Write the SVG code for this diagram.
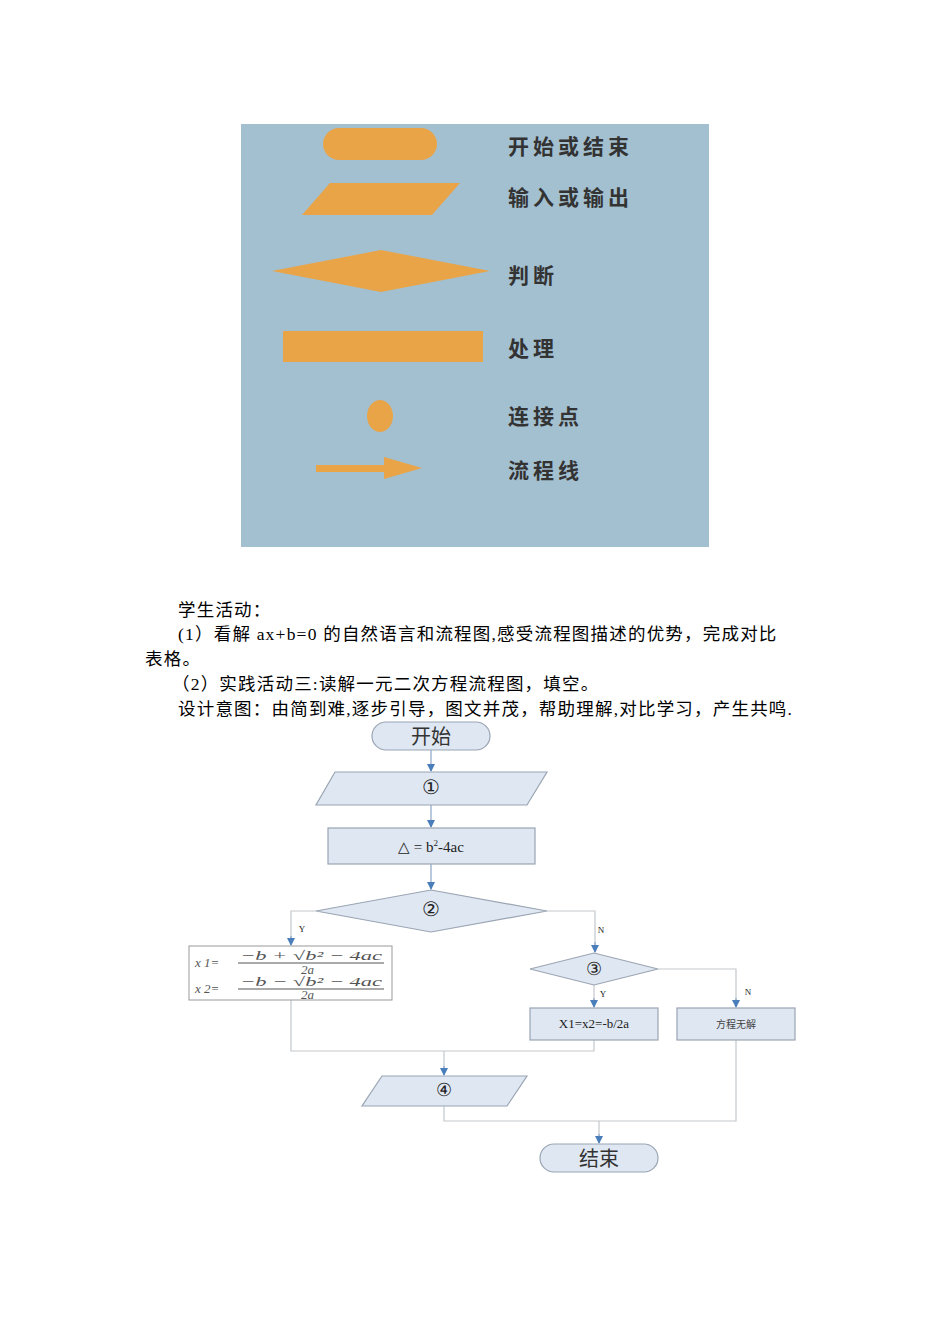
<svg xmlns="http://www.w3.org/2000/svg" width="950" height="1344" viewBox="0 0 950 1344">
<style>
.o{fill:#e9a448}
.lg{font-family:"Noto Sans CJK SC",sans-serif;font-size:21px;font-weight:bold;fill:#333}
.p{font-family:"Liberation Serif","Noto Sans CJK SC",serif;font-size:17.5px;letter-spacing:1.2px;fill:#000}
.n{fill:#dfe7f2;stroke:#9aa5b3;stroke-width:1.2}
.c{fill:none;stroke:#c4c8cc;stroke-width:1.2}
.a{fill:none;stroke:#8aa4c8;stroke-width:1.2}
.t{font-family:"Liberation Serif",serif;text-anchor:middle;fill:#222}
.f{font-family:"Liberation Serif",serif;font-style:italic;font-size:13px;fill:#555}
</style>
<defs><marker id="m" markerWidth="8" markerHeight="8" refX="7" refY="4" orient="auto" markerUnits="userSpaceOnUse"><path d="M0,0 L8,4 L0,8 Z" fill="#4a7ebb"/></marker></defs>
<rect width="950" height="1344" fill="#fff"/>
<g id="legend">
<rect x="241" y="124" width="468" height="423" fill="#a3c0d0"/>
<rect class="o" x="323" y="128" width="114" height="32" rx="16"/>
<polygon class="o" points="330,183 460,183 432,215 302,215"/>
<polygon class="o" points="272,271 381,250 490,271 381,292"/>
<rect class="o" x="283" y="331" width="200" height="31"/>
<ellipse class="o" cx="380" cy="416" rx="13" ry="16"/>
<rect class="o" x="316" y="465" width="70" height="7"/>
<polygon class="o" points="384,457 422,468 384,479"/>
<text class="lg" x="508" y="154" letter-spacing="4">开始或结束</text>
<text class="lg" x="508" y="205" letter-spacing="4">输入或输出</text>
<text class="lg" x="508" y="283" letter-spacing="4">判断</text>
<text class="lg" x="508" y="356" letter-spacing="4">处理</text>
<text class="lg" x="508" y="424" letter-spacing="4">连接点</text>
<text class="lg" x="508" y="478" letter-spacing="4">流程线</text>
</g>
<g id="text">
<text class="p" x="178" y="616">学生活动：</text>
<text class="p" x="178" y="640">(1）看解 ax+b=0 的自然语言和流程图,感受流程图描述的优势，完成对比</text>
<text class="p" x="145" y="665">表格。</text>
<text class="p" x="172" y="690">（2）实践活动三:读解一元二次方程流程图，填空。</text>
<text class="p" x="178" y="715">设计意图：由简到难,逐步引导，图文并茂，帮助理解,对比学习，产生共鸣.</text>
</g>
<g id="connectors">
<path class="a" d="M431,750 V771" marker-end="url(#m)"/>
<path class="a" d="M431,805 V827" marker-end="url(#m)"/>
<path class="a" d="M431,864 V889" marker-end="url(#m)"/>
<path class="c" d="M316,911 H291 V940"/><path class="a" d="M291,936 V945" marker-end="url(#m)"/>
<path class="c" d="M547,911 H595 V946"/><path class="a" d="M595,942 V952" marker-end="url(#m)"/>
<path class="c" d="M594,985 V1002"/><path class="a" d="M594,998 V1007" marker-end="url(#m)"/>
<path class="c" d="M658,969 H736 V1002"/><path class="a" d="M736,998 V1007" marker-end="url(#m)"/>
<path class="c" d="M291,1000 V1051 H594 V1040"/>
<path class="c" d="M444,1051 V1070"/><path class="a" d="M444,1066 V1075" marker-end="url(#m)"/>
<path class="c" d="M444,1106 V1121 H736 V1040"/>
<path class="c" d="M599,1121 V1138"/><path class="a" d="M599,1134 V1143" marker-end="url(#m)"/>
<text class="t" x="302" y="932" font-size="9">Y</text>
<text class="t" x="601" y="933" font-size="9">N</text>
<text class="t" x="603" y="997" font-size="9">Y</text>
<text class="t" x="748" y="995" font-size="9">N</text>
</g>
<g id="start"><rect class="n" x="372" y="722" width="118" height="28" rx="14"/><text x="431" y="744" font-family="Noto Sans CJK SC,sans-serif" font-size="20" text-anchor="middle" fill="#333">开始</text></g>
<g id="input1"><polygon class="n" points="335,772 547,772 527,805 316,805"/><text class="t" x="431" y="794" font-size="20">①</text></g>
<g id="delta"><rect class="n" x="328" y="828" width="207" height="36"/><text class="t" x="431" y="852" font-size="15">△ = b<tspan font-size="9" dy="-6">2</tspan><tspan dy="6">-4ac</tspan></text></g>
<g id="dec2"><polygon class="n" points="316,911 431,890 547,911 431,932"/><text class="t" x="431" y="916" font-size="20">②</text></g>
<g id="formula"><rect x="189" y="946" width="203" height="54" fill="#fff" stroke="#999"/>
<text class="f" x="195" y="967" font-style="normal">x 1=</text>
<text class="f" x="240" y="960" textLength="142" lengthAdjust="spacingAndGlyphs">−b + √b² − 4ac</text>
<line x1="238" y1="963" x2="384" y2="963" stroke="#555"/>
<text class="f" x="301" y="974">2a</text>
<text class="f" x="195" y="993" font-style="normal">x 2=</text>
<text class="f" x="240" y="986" textLength="142" lengthAdjust="spacingAndGlyphs">−b − √b² − 4ac</text>
<line x1="238" y1="989" x2="384" y2="989" stroke="#555"/>
<text class="f" x="301" y="999">2a</text></g>
<g id="dec3"><polygon class="n" points="530,969 594,953 658,969 594,985"/><text class="t" x="594" y="975" font-size="18">③</text></g>
<g id="x12"><rect class="n" x="530" y="1008" width="128" height="32"/><text class="t" x="594" y="1028" font-size="13">X1=x2=-b/2a</text></g>
<g id="nosol"><rect class="n" x="677" y="1008" width="118" height="32"/><text x="736" y="1028" font-family="Noto Sans CJK SC,sans-serif" font-size="10" text-anchor="middle" fill="#444">方程无解</text></g>
<g id="input4"><polygon class="n" points="382,1076 527,1076 507,1106 362,1106"/><text class="t" x="444" y="1096" font-size="18">④</text></g>
<g id="end"><rect class="n" x="540" y="1144" width="118" height="28" rx="14"/><text x="599" y="1166" font-family="Noto Sans CJK SC,sans-serif" font-size="20" text-anchor="middle" fill="#333">结束</text></g>
</svg>
